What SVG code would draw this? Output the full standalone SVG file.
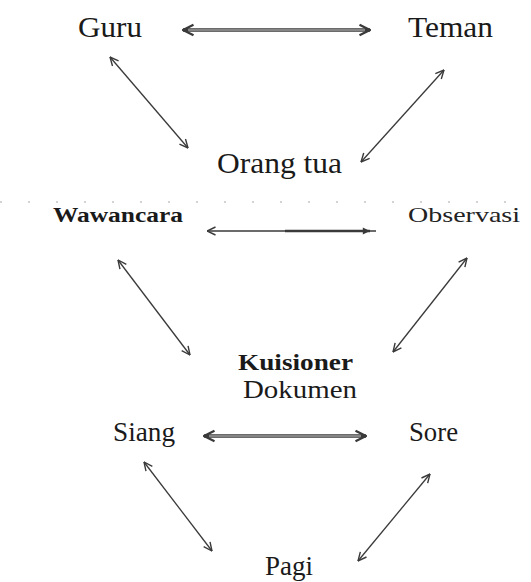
<svg xmlns="http://www.w3.org/2000/svg" width="531" height="582" viewBox="0 0 531 582">
<style>
.t{font-family:"Liberation Serif","Times New Roman",serif;fill:#1a1a1a}
.b{font-weight:bold}
.thin{stroke:#3a3a3a;stroke-width:1.3;fill:none}
.dbl{stroke:#3a3a3a;stroke-width:3.6;fill:none}
.dblin{stroke:#d0d0d0;stroke-width:1;fill:none}
</style>
<defs>
<marker id="h" viewBox="0 0 10 10" refX="9.5" refY="5" markerWidth="10" markerHeight="10" markerUnits="userSpaceOnUse" orient="auto-start-reverse">
<path d="M1,1 L9.5,5 L1,9" fill="none" stroke="#3a3a3a" stroke-width="1.4"/>
</marker>
<marker id="hb" viewBox="0 0 12 12" refX="11" refY="6" markerWidth="14" markerHeight="14" markerUnits="userSpaceOnUse" orient="auto-start-reverse">
<path d="M2,1.5 L11,6 L2,10.5" fill="none" stroke="#3a3a3a" stroke-width="2"/>
</marker>
<marker id="hf" viewBox="0 0 10 10" refX="9" refY="5" markerWidth="9" markerHeight="9" markerUnits="userSpaceOnUse" orient="auto">
<path d="M1,1 L9,5 L1,9 Z" fill="#3a3a3a"/>
</marker>
</defs>

<line x1="0" y1="202" x2="531" y2="202" stroke="#a8a8a8" stroke-width="1" stroke-dasharray="2 26"/>

<g id="connectors">
<line class="dbl" x1="183" y1="30" x2="370" y2="30" marker-start="url(#hb)" marker-end="url(#hb)"/>
<line class="dblin" x1="188" y1="30" x2="365" y2="30"/>
<line class="thin" x1="110" y1="57" x2="188" y2="148" marker-start="url(#h)" marker-end="url(#h)"/>
<line class="thin" x1="444" y1="70" x2="361" y2="162" marker-start="url(#h)" marker-end="url(#h)"/>
<line class="thin" x1="207" y1="231" x2="376" y2="231" marker-start="url(#h)"/>
<line x1="285" y1="231" x2="370" y2="231" stroke="#3a3a3a" stroke-width="2.6" marker-end="url(#hf)"/>
<line class="thin" x1="118" y1="260" x2="190" y2="355" marker-start="url(#h)" marker-end="url(#h)"/>
<line class="thin" x1="467" y1="258" x2="393" y2="352" marker-start="url(#h)" marker-end="url(#h)"/>
<line class="dbl" x1="204" y1="436" x2="366" y2="436" marker-start="url(#hb)" marker-end="url(#hb)"/>
<line class="dblin" x1="209" y1="436" x2="361" y2="436"/>
<line class="thin" x1="144" y1="462" x2="212" y2="551" marker-start="url(#h)" marker-end="url(#h)"/>
<line class="thin" x1="430" y1="474" x2="358" y2="561" marker-start="url(#h)" marker-end="url(#h)"/>
</g>

<g id="guru"><text class="t" x="78" y="37" font-size="29" textLength="64" lengthAdjust="spacingAndGlyphs">Guru</text></g>
<g id="teman"><text class="t" x="408" y="37" font-size="30" textLength="85" lengthAdjust="spacingAndGlyphs">Teman</text></g>
<g id="orang-tua"><text class="t" x="217" y="173" font-size="30" textLength="125" lengthAdjust="spacingAndGlyphs">Orang tua</text></g>
<g id="wawancara"><text class="t b" x="53" y="222" font-size="20" textLength="130" lengthAdjust="spacingAndGlyphs">Wawancara</text></g>
<g id="observasi"><text class="t" x="408" y="222" font-size="22" textLength="112" lengthAdjust="spacingAndGlyphs" style="fill:#222">Observasi</text></g>
<g id="kuisioner-dokumen">
<text class="t b" x="238" y="370" font-size="23" textLength="115" lengthAdjust="spacingAndGlyphs">Kuisioner</text>
<text class="t" x="243" y="398" font-size="25" textLength="114" lengthAdjust="spacingAndGlyphs">Dokumen</text>
</g>
<g id="siang"><text class="t" x="113" y="441" font-size="27" textLength="62" lengthAdjust="spacingAndGlyphs">Siang</text></g>
<g id="sore"><text class="t" x="409" y="441" font-size="27" textLength="49" lengthAdjust="spacingAndGlyphs">Sore</text></g>
<g id="pagi"><text class="t" x="265" y="575" font-size="28" textLength="48" lengthAdjust="spacingAndGlyphs">Pagi</text></g>
</svg>
